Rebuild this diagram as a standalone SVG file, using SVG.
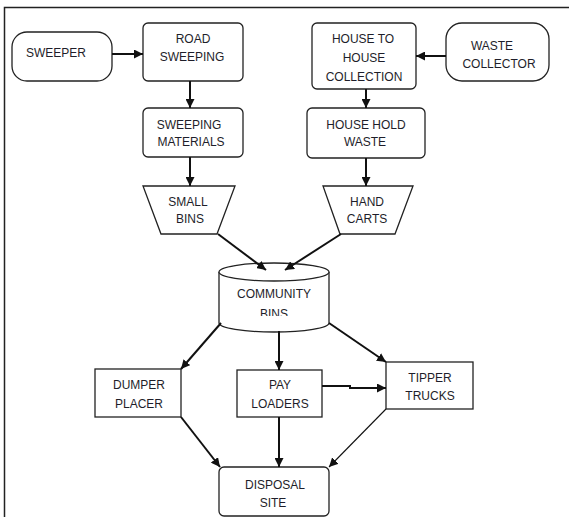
<svg xmlns="http://www.w3.org/2000/svg" width="569" height="517" viewBox="0 0 569 517">
<style>
  .box { fill: #fff; stroke: #222; stroke-width: 1.3; }
  .lbl { font-family: "Liberation Sans", Arial, sans-serif; font-size: 12px; fill: #1e1e2a; text-anchor: middle; }
  .con { stroke: #111; stroke-width: 2; fill: none; marker-end: url(#ah); }
  .thin { stroke-width: 1.1; }
</style>
<defs>
  <marker id="ah" viewBox="0 0 10 10" refX="10" refY="5" markerWidth="9" markerHeight="9" markerUnits="userSpaceOnUse" orient="auto">
    <path d="M0,0 L10,5 L0,10 z" fill="#111"/>
  </marker>
  <clipPath id="cylclip"><rect x="200" y="250" width="150" height="66"/></clipPath>
</defs>
<rect width="569" height="517" fill="#fff"/>
<g id="frame" stroke="#222" stroke-width="1.5" fill="none">
  <path d="M4.5,517 V7.5 H569"/>
</g>
<g id="sweeper">
  <rect class="box" x="12" y="32" width="100" height="49" rx="15" ry="15"/>
  <text class="lbl" x="26" y="57" style="text-anchor:start">SWEEPER</text>
</g>
<g id="road-sweeping">
  <rect class="box" x="143" y="23" width="100" height="58" rx="5"/>
  <text class="lbl" x="193" y="43">ROAD</text>
  <text class="lbl" x="192" y="61">SWEEPING</text>
</g>
<g id="sweeping-materials">
  <rect class="box" x="143" y="108" width="100" height="49" rx="5"/>
  <text class="lbl" x="189" y="129">SWEEPING</text>
  <text class="lbl" x="191" y="146">MATERIALS</text>
</g>
<g id="house-to-house">
  <rect class="box" x="312" y="23" width="104" height="66" rx="5"/>
  <text class="lbl" x="363" y="43">HOUSE TO</text>
  <text class="lbl" x="364" y="62">HOUSE</text>
  <text class="lbl" x="364" y="81">COLLECTION</text>
</g>
<g id="waste-collector">
  <rect class="box" x="446" y="23" width="103" height="58" rx="16" ry="16"/>
  <text class="lbl" x="492" y="50">WASTE</text>
  <text class="lbl" x="499" y="68">COLLECTOR</text>
</g>
<g id="household-waste">
  <rect class="box" x="307" y="108" width="118" height="50" rx="5"/>
  <text class="lbl" x="366" y="129">HOUSE HOLD</text>
  <text class="lbl" x="365" y="146">WASTE</text>
</g>
<g id="small-bins">
  <polygon class="box" points="143,186 235,186 217,234 161,234"/>
  <text class="lbl" x="188" y="206">SMALL</text>
  <text class="lbl" x="190" y="223">BINS</text>
</g>
<g id="hand-carts">
  <polygon class="box" points="323,186 413,186 395,234 340,234"/>
  <text class="lbl" x="367" y="206">HAND</text>
  <text class="lbl" x="367" y="223">CARTS</text>
</g>
<g id="community-bins">
  <path class="box" d="M219,272 V323 A55,9 0 0 0 329,323 V272"/>
  <ellipse class="box" cx="274" cy="272" rx="55" ry="9"/>
  <text class="lbl" x="274" y="298">COMMUNITY</text>
  <text class="lbl" x="274" y="318" clip-path="url(#cylclip)">BINS</text>
</g>
<g id="dumper-placer">
  <rect class="box" x="95" y="369" width="86" height="48"/>
  <text class="lbl" x="139" y="389">DUMPER</text>
  <text class="lbl" x="139" y="408">PLACER</text>
</g>
<g id="pay-loaders">
  <rect class="box" x="237" y="370" width="85" height="47"/>
  <text class="lbl" x="280" y="389">PAY</text>
  <text class="lbl" x="280" y="408">LOADERS</text>
</g>
<g id="tipper-trucks">
  <rect class="box" x="386" y="362" width="87" height="47"/>
  <text class="lbl" x="430" y="382">TIPPER</text>
  <text class="lbl" x="430" y="400">TRUCKS</text>
</g>
<g id="disposal-site">
  <rect class="box" x="219" y="467" width="110" height="49" rx="5"/>
  <text class="lbl" x="275" y="489">DISPOSAL</text>
  <text class="lbl" x="273" y="507">SITE</text>
</g>
<g id="connectors">
  <line class="con" x1="112" y1="54" x2="143" y2="54"/>
  <line class="con" x1="190" y1="81" x2="190" y2="108"/>
  <line class="con" x1="190" y1="157" x2="190" y2="186"/>
  <line class="con" x1="446" y1="56" x2="416" y2="56"/>
  <line class="con" x1="366" y1="89" x2="366" y2="108"/>
  <line class="con" x1="366" y1="158" x2="366" y2="186"/>
  <line class="con" x1="218" y1="234" x2="266" y2="270"/>
  <line class="con" x1="341" y1="234" x2="285" y2="270"/>
  <line class="con" x1="221" y1="323" x2="181" y2="369"/>
  <line class="con" x1="279" y1="331" x2="279" y2="370"/>
  <line class="con" x1="329" y1="323" x2="386" y2="362"/>
  <polyline class="con" points="322,386 350,386 350,388 386,388"/>
  <line class="con" x1="181" y1="417" x2="220" y2="467"/>
  <line class="con" x1="279" y1="417" x2="279" y2="467"/>
  <line class="con thin" x1="386" y1="409" x2="329" y2="467"/>
</g>
</svg>
